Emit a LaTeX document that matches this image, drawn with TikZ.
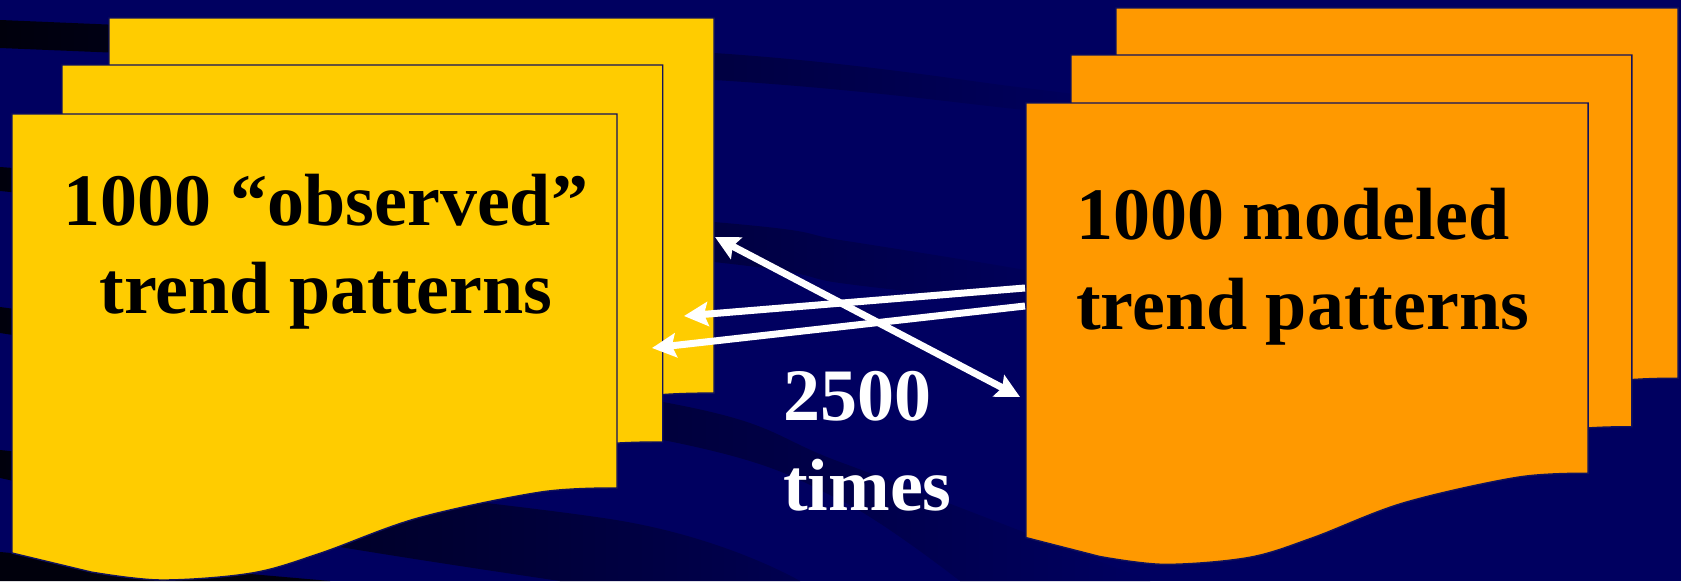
\documentclass[tikz,border=0pt]{standalone}
\usepackage{fontspec}
\setmainfont{Liberation Serif}
\usetikzlibrary{arrows.meta}
\definecolor{bg}{RGB}{0,0,96}
\definecolor{bandk}{RGB}{0,0,12}
\definecolor{bandm}{RGB}{0,0,80}
\definecolor{gold}{RGB}{255,204,0}
\definecolor{orng}{RGB}{255,153,0}
\definecolor{pageedge}{RGB}{18,18,92}
\tikzset{
  pagestyle/.style={draw=pageedge, line width=1.4pt, line join=miter},
  bigtext/.style={inner sep=0pt, font=\bfseries\fontsize{74}{89}\selectfont, text=black},
  whitetext/.style={bigtext, text=white},
  conn/.style={draw=white, line width=7pt},
  tip/.tip={Stealth[length=24pt,width=24pt,inset=4pt]}
}
\newcommand{\docpage}[6]{%
  \begin{scope}[shift={(#2,#3)}, xscale=#4, yscale=#5]
    \path[pagestyle, fill=#6] (0,0) coordinate (#1-nw) -- (605,0) coordinate (#1-ne)
      -- (605,374) coordinate (#1-se)
      -- plot[smooth, tension=0.55] coordinates {(605,374) (529,378) (406,404) (309,439) (240,459) (149,466) (79,458)}
      -- (0,439) coordinate (#1-sw) -- cycle;
  \end{scope}}
\begin{document}
\begin{tikzpicture}[x=1pt, y=-1pt]
  \useasboundingbox (0,0) rectangle (1681,581);
  \fill[bg] (0,0) rectangle (1681,581);
  % background streaks
  \shade[left color=bandk, right color=bg]
    plot[smooth] coordinates {(0,20) (714,53) (1025,88) (1130,102)}
    -- plot[smooth] coordinates {(1130,122) (1025,110) (714,80) (0,48)} -- cycle;
  \shade[left color=bandk, right color=bg]
    plot[smooth] coordinates {(0,167) (714,222) (840,240) (1025,270) (1120,290)}
    -- plot[smooth] coordinates {(1120,322) (1025,305) (840,283) (714,262) (0,191)} -- cycle;
  \shade[left color=bandk, right color=bg]
    plot[smooth] coordinates {(0,307) (663,402) (840,462) (1150,581)}
    -- plot[smooth] coordinates {(960,581) (840,500) (663,440) (0,333)} -- cycle;
  \shade[left color=bandk, right color=bandm]
    plot[smooth] coordinates {(0,450) (616,520) (800,581)}
    -- plot[smooth] coordinates {(560,581) (300,540) (0,478)} -- cycle;
  \fill[bandk] (0,552) -- (330,581) -- (0,581) -- cycle;
  % left stack of pages
  \docpage{obsback}{109}{18}{1}{1.003}{gold}
  \docpage{obsmid}{62}{65}{0.993}{1.008}{gold}
  \docpage{obsfront}{12}{114}{1}{1}{gold}
  % right stack of pages
  \docpage{modback}{1116}{8}{0.929}{0.99}{orng}
  \docpage{modmid}{1071}{55}{0.927}{0.994}{orng}
  \docpage{modfront}{1026}{103}{0.929}{0.99}{orng}
  % texts
  \node[bigtext, anchor=base] (obsA) at (326,225) {1000 “observed”};
  \node[bigtext, anchor=base] (obsB) at (326,313) {trend patterns};
  \node[bigtext, anchor=base west] (modA) at (1076,239) {1000 modeled};
  \node[bigtext, anchor=base west] (modB) at (1076,329) {trend patterns};
  \node[whitetext, anchor=base west] (cntA) at (783,420) {2500};
  \node[whitetext, anchor=base west] (cntB) at (783,510) {times};
  % arrow end points
  \coordinate (pA) at (715,237);
  \coordinate (pB) at (1020,397);
  \coordinate (tailC) at (1025,288);
  \coordinate (tipC) at (684,316);
  \coordinate (tailD) at (1025,306);
  \coordinate (tipD) at (652,348);
  \draw[conn, tip-tip] (pA) -- (pB);
  \draw[conn, -tip] (tailC) -- (tipC);
  \draw[conn, -tip] (tailD) -- (tipD);
\end{tikzpicture}
\end{document}
